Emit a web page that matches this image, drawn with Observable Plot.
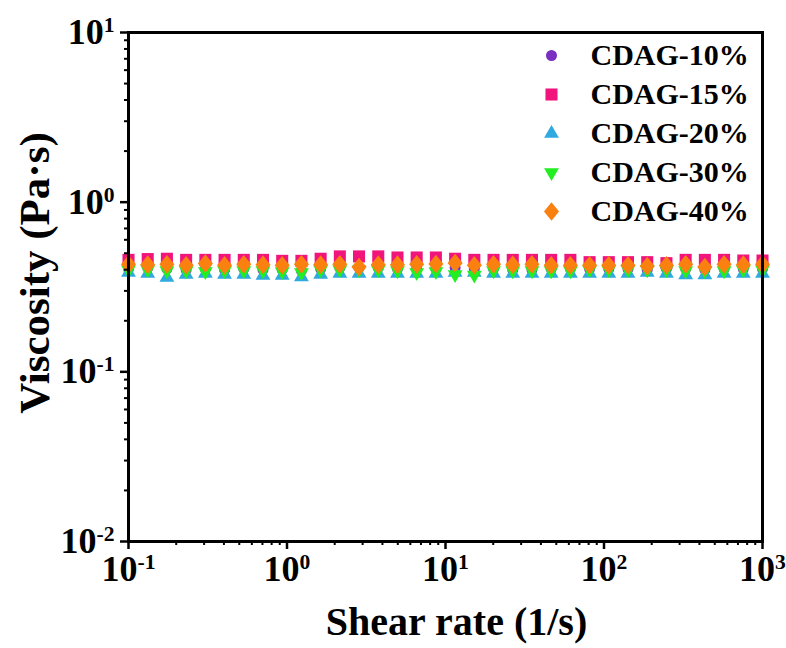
<!DOCTYPE html>
<html><head><meta charset="utf-8">
<script src="https://cdn.jsdelivr.net/npm/d3@7"></script>
<script src="https://cdn.jsdelivr.net/npm/@observablehq/plot@0.6"></script>
<style>
body{margin:0;background:#fff;}
svg text{font-family:"Liberation Serif","Times New Roman",serif;font-weight:bold;}
</style></head>
<body><div id="chart"></div>
<script>
const shearRate = [0.1,0.1322,0.1747,0.2310,0.3054,0.4037,0.5337,0.7055,0.9326,1.233,1.630,2.154,2.848,3.765,4.977,6.579,8.698,11.50,15.20,20.09,26.56,35.11,46.42,61.36,81.11,107.2,141.7,187.4,247.7,327.5,432.9,572.2,756.5,1000];
const visc10 = [0.405,0.41,0.405,0.40,0.405,0.40,0.405,0.40,0.40,0.395,0.405,0.41,0.41,0.41,0.405,0.405,0.405,0.41,0.405,0.405,0.40,0.40,0.405,0.405,0.405,0.405,0.405,0.40,0.405,0.405,0.40,0.405,0.405,0.405];
const visc15 = [0.457,0.462,0.464,0.457,0.457,0.457,0.457,0.457,0.451,0.451,0.464,0.479,0.479,0.479,0.472,0.472,0.472,0.464,0.457,0.457,0.457,0.457,0.457,0.457,0.443,0.443,0.443,0.443,0.437,0.457,0.457,0.457,0.453,0.453];
const visc20 = [0.385,0.38,0.36,0.375,0.38,0.375,0.375,0.37,0.37,0.362,0.375,0.38,0.38,0.38,0.38,0.38,0.38,0.385,0.385,0.38,0.38,0.38,0.38,0.38,0.38,0.38,0.38,0.385,0.38,0.372,0.372,0.38,0.38,0.38];
const visc30 = [0.40,0.40,0.395,0.395,0.39,0.395,0.395,0.395,0.39,0.385,0.40,0.40,0.40,0.40,0.395,0.385,0.39,0.375,0.372,0.395,0.395,0.395,0.395,0.395,0.40,0.40,0.40,0.40,0.40,0.395,0.395,0.395,0.40,0.40];
const visc40 = [0.43,0.428,0.43,0.425,0.435,0.425,0.43,0.428,0.425,0.43,0.428,0.43,0.415,0.428,0.428,0.43,0.432,0.438,0.425,0.43,0.428,0.43,0.425,0.425,0.425,0.425,0.425,0.42,0.425,0.43,0.415,0.43,0.428,0.43];

const seriesNames = ["CDAG-10%","CDAG-15%","CDAG-20%","CDAG-30%","CDAG-40%"];
const seriesColors = ["#7b2fc0","#f0147c","#2fa9e0","#22ee22","#fa8010"];
const xMajorTicks = [0.1,1,10,100,1000];
const xTickLabels = ["10^-1","10^0","10^1","10^2","10^3"];
const yMajorTicks = [0.01,0.1,1,10];
const yTickLabels = ["10^-2","10^-1","10^0","10^1"];
const xTitle = "Shear rate (1/s)";
const yTitle = "Viscosity (Pa·s)";

const seriesValues = [visc10, visc15, visc20, visc30, visc40];
const diamond = {draw(ctx, size){const s=Math.sqrt(size);const h=s*0.62,w=s*0.5;ctx.moveTo(0,-h);ctx.lineTo(w,0);ctx.lineTo(0,h);ctx.lineTo(-w,0);ctx.closePath();}};
const symbolSpecs = [
  {symbol:"circle", r:5.5, rotate:0},
  {symbol:"square", r:6.8, rotate:0},
  {symbol:"triangle", r:5.5, rotate:0},
  {symbol:"triangle", r:5.5, rotate:180},
  {symbol:diamond, r:8.5, rotate:0}
];
const minorOf = (lo, hi) => d3.range(lo, hi).flatMap(k => [2,3,4,5,6,7,8,9].map(m => m * 10 ** k));
const xMinorTicks = minorOf(-1, 3);
const yMinorTicks = minorOf(-2, 1);

const marks = [];
seriesNames.forEach((name, s) => {
  const rows = shearRate.map((x, i) => ({x, y: seriesValues[s][i]}));
  marks.push(Plot.dot(rows, {x:"x", y:"y", symbol: () => symbolSpecs[s].symbol, r: symbolSpecs[s].r, rotate: symbolSpecs[s].rotate, fill: seriesColors[s], stroke: "none"}));
});
seriesNames.forEach((name, s) => {
  marks.push(Plot.dot([name], {frameAnchor:"top-left", dx:423, dy:23 + 39*s, symbol: () => symbolSpecs[s].symbol, r: symbolSpecs[s].r, rotate: symbolSpecs[s].rotate, fill: seriesColors[s], stroke:"none"}));
  marks.push(Plot.text([name], {text: d => d, frameAnchor:"top-left", dx:462, dy:23 + 39*s, textAnchor:"start", lineAnchor:"middle", fontSize:30, fill:"#000"}));
});
marks.push(
  Plot.axisX({ticks: xMinorTicks, tickSize: 4, tickFormat: () => "", strokeWidth: 2, label: null}),
  Plot.axisX({ticks: xMajorTicks, tickSize: 8, tickPadding: 6, tickFormat: d => xTickLabels[xMajorTicks.indexOf(d)], fontSize: 36, strokeWidth: 2.5, label: null}),
  Plot.axisY({ticks: yMinorTicks, tickSize: 4, tickFormat: () => "", strokeWidth: 2, label: null}),
  Plot.axisY({ticks: yMajorTicks, tickSize: 8, tickPadding: 6, tickFormat: d => yTickLabels[yMajorTicks.indexOf(d)], fontSize: 36, strokeWidth: 2.5, label: null}),
  Plot.frame({stroke:"#000", strokeWidth: 3}),
  Plot.text([xTitle], {text: d => d, frameAnchor:"bottom", dx: 11, dy: 81, fontSize: 40, textAnchor:"middle", lineAnchor:"middle", fill:"#000"}),
  Plot.text([yTitle], {text: d => d, frameAnchor:"left", dx: -93, dy: -14, rotate: -90, fontSize: 43, textAnchor:"middle", lineAnchor:"middle", fill:"#000"})
);

const svg = Plot.plot({
  width: 786, height: 648,
  marginLeft: 128, marginRight: 24, marginTop: 32, marginBottom: 107,
  x: {type:"log", domain:[0.1,1000]},
  y: {type:"log", domain:[0.01,10]},
  style: {background:"#fff", color:"#000"},
  marks
});

const ns = "http://www.w3.org/2000/svg";
svg.querySelectorAll("text").forEach(t => {
  const s = t.textContent;
  if (s.includes("^")) {
    const [b, e] = s.split("^");
    t.textContent = "";
    const t1 = document.createElementNS(ns, "tspan"); t1.textContent = b; t.appendChild(t1);
    const t2 = document.createElementNS(ns, "tspan"); t2.textContent = e;
    t2.setAttribute("dy", "-0.55em"); t2.setAttribute("font-size", "0.6em");
    t.appendChild(t2);
  }
});
document.getElementById("chart").appendChild(svg);
</script>
</body></html>
